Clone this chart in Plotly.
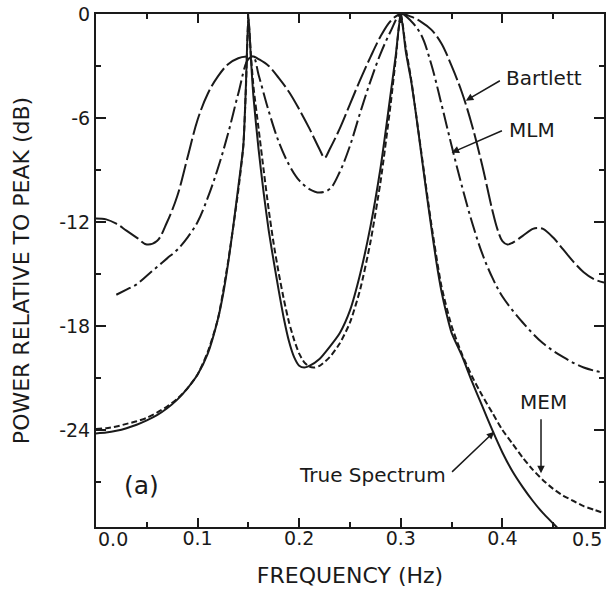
import plotly.graph_objects as go

# ---- data ----
true_x = [0.0, 0.01, 0.02, 0.03, 0.04, 0.05, 0.06, 0.07, 0.08, 0.09, 0.10, 0.11, 0.12, 0.125, 0.13, 0.135, 0.14, 0.145, 0.1475, 0.15,
          0.1525, 0.155, 0.16, 0.165, 0.17, 0.175, 0.18, 0.185, 0.19, 0.195, 0.20, 0.205, 0.21, 0.22, 0.23, 0.24,
          0.25, 0.26, 0.27, 0.28, 0.285, 0.29, 0.295, 0.30, 0.305, 0.31, 0.315, 0.32, 0.325, 0.33, 0.335, 0.34, 0.345,
          0.35, 0.36, 0.37, 0.38, 0.39, 0.40, 0.41, 0.42, 0.43, 0.44, 0.45, 0.46]
true_y = [-24.2, -24.15, -24.05, -23.9, -23.7, -23.45, -23.15, -22.75, -22.25, -21.6, -20.8, -19.6, -17.6, -16.2, -14.4, -12.3, -10.0, -7.6, -4.2, 0.0,
          -2.6, -4.8, -7.8, -10.3, -12.5, -14.3, -16.0, -17.6, -18.9, -19.8, -20.3, -20.4, -20.3, -19.9, -19.2, -18.4,
          -17.1, -15.0, -12.3, -8.9, -6.8, -4.6, -2.4, 0.0, -2.2, -3.8, -5.8, -8.0, -10.2, -12.3, -14.3, -16.0, -17.3,
          -18.4, -19.7, -21.2, -22.6, -24.0, -25.3, -26.4, -27.3, -28.1, -28.8, -29.4, -30.0]

mem_x = [0.0, 0.01, 0.02, 0.03, 0.04, 0.05, 0.06, 0.07, 0.08, 0.09, 0.10, 0.11, 0.12, 0.13, 0.14, 0.145, 0.1475, 0.15,
         0.1525, 0.155, 0.16, 0.165, 0.17, 0.175, 0.18, 0.185, 0.19, 0.195, 0.20, 0.205, 0.21, 0.215, 0.22, 0.23, 0.24,
         0.25, 0.26, 0.27, 0.28, 0.29, 0.295, 0.30, 0.305, 0.31, 0.32, 0.33, 0.34, 0.35, 0.36, 0.37, 0.38, 0.39, 0.40,
         0.41, 0.42, 0.43, 0.44, 0.45, 0.46, 0.47, 0.48, 0.49, 0.50]
mem_y = [-23.95, -23.9, -23.8, -23.65, -23.5, -23.3, -23.0, -22.65, -22.2, -21.6, -20.8, -19.5, -17.6, -14.3, -10.2, -7.6, -4.4, -0.3,
         -2.4, -4.2, -6.6, -9.0, -11.3, -13.3, -15.0, -16.5, -17.8, -18.8, -19.6, -20.1, -20.35, -20.4, -20.3, -19.8, -19.0,
         -17.8, -15.9, -13.2, -9.7, -5.2, -2.6, 0.0, -2.0, -3.7, -7.9, -12.1, -15.7, -18.0, -19.6, -20.9, -22.0, -23.0, -24.0,
         -24.8, -25.6, -26.3, -26.9, -27.4, -27.8, -28.1, -28.4, -28.6, -28.8]

mlm_x = [0.02, 0.03, 0.04, 0.05, 0.06, 0.07, 0.08, 0.09, 0.10, 0.11, 0.12, 0.13, 0.14, 0.15, 0.155,
         0.16, 0.17, 0.18, 0.19, 0.20, 0.21, 0.22, 0.23, 0.24, 0.25, 0.26, 0.27, 0.28, 0.29, 0.30,
         0.31, 0.32, 0.33, 0.34, 0.35, 0.36, 0.37, 0.38, 0.39, 0.40, 0.42, 0.44, 0.46, 0.48, 0.50]
mlm_y = [-16.2, -15.9, -15.6, -15.1, -14.6, -14.1, -13.6, -12.9, -12.0, -10.6, -8.9, -6.9, -4.6, -2.6, -2.5,
         -3.5, -5.6, -7.4, -8.7, -9.6, -10.1, -10.3, -10.1, -9.1, -7.6, -5.7, -3.9, -2.3, -1.0, 0.0,
         -0.4, -1.2, -2.9, -5.2, -7.6, -9.9, -12.0, -13.8, -15.2, -16.3, -17.8, -19.0, -19.8, -20.4, -20.7]

bart_x = [0.0, 0.01, 0.02, 0.03, 0.04, 0.05, 0.06, 0.07, 0.08, 0.09, 0.10, 0.11, 0.12, 0.13, 0.14, 0.15, 0.155,
          0.16, 0.17, 0.18, 0.19, 0.20, 0.21, 0.22, 0.225, 0.23, 0.24, 0.25, 0.26, 0.27, 0.28, 0.29, 0.30,
          0.31, 0.32, 0.33, 0.34, 0.35, 0.36, 0.37, 0.38, 0.39, 0.395, 0.40, 0.405, 0.41, 0.42, 0.43, 0.435,
          0.44, 0.45, 0.46, 0.47, 0.48, 0.49, 0.50]
bart_y = [-11.8, -11.85, -12.1, -12.5, -12.9, -13.3, -13.1, -12.0, -10.5, -8.3, -6.1, -4.6, -3.6, -2.9, -2.55, -2.45, -2.45,
          -2.6, -3.0, -3.7, -4.5, -5.5, -6.6, -7.8, -8.3, -7.8, -6.6, -5.2, -3.8, -2.5, -1.3, -0.4, 0.0,
          -0.15, -0.45, -0.9, -1.7, -3.0, -4.5, -6.4, -8.7, -11.3, -12.4, -13.1, -13.3, -13.2, -12.8, -12.4, -12.35,
          -12.4, -12.9, -13.6, -14.3, -14.9, -15.3, -15.5]

x_tick_vals = [0.0, 0.1, 0.2, 0.3, 0.4, 0.5]
x_tick_text = ["0.0", "0.1", "0.2", "0.3", "0.4", "0.5"]
y_tick_vals = [0, -6, -12, -18, -24]
y_tick_text = ["0", "-6", "-12", "-18", "-24"]

FONT = "DejaVu Sans"
INK = "#1a1a1a"
TICK_SIZE = 19

fig = go.Figure()
fig.add_trace(go.Scatter(x=bart_x, y=bart_y, mode="lines", name="Bartlett",
                         line=dict(color=INK, width=2, dash="22px,4px", shape="spline", smoothing=1)))
fig.add_trace(go.Scatter(x=mlm_x, y=mlm_y, mode="lines", name="MLM",
                         line=dict(color=INK, width=2, dash="16px,4px,3px,4px", shape="spline", smoothing=1)))
fig.add_trace(go.Scatter(x=mem_x, y=mem_y, mode="lines", name="MEM",
                         line=dict(color=INK, width=2, dash="6px,3px", shape="spline", smoothing=0.6)))
fig.add_trace(go.Scatter(x=true_x, y=true_y, mode="lines", name="True Spectrum",
                         line=dict(color=INK, width=2, shape="spline", smoothing=0.6)))

ann_font = dict(family=FONT, size=20, color=INK)
arrow = dict(axref="x", ayref="y", text="", showarrow=True,
             arrowhead=2, arrowsize=1, arrowwidth=1.5, arrowcolor=INK)
annotations = [
    dict(x=0.441, y=-3.7, text="Bartlett", showarrow=False, font=ann_font),
    dict(x=0.429, y=-6.7, text="MLM", showarrow=False, font=ann_font),
    dict(x=0.44, y=-22.4, text="MEM", showarrow=False, font=ann_font),
    dict(x=0.2725, y=-26.6, text="True Spectrum", showarrow=False, font=ann_font),
    dict(x=0.045, y=-27.2, text="(a)", showarrow=False, font=dict(family=FONT, size=25, color=INK)),
    dict(x=0.364, y=-5.0, ax=0.399, ay=-3.8, **arrow),
    dict(x=0.350, y=-8.0, ax=0.401, ay=-6.7, **arrow),
    dict(x=0.438, y=-26.5, ax=0.438, ay=-23.3, **arrow),
    dict(x=0.392, y=-24.1, ax=0.349, ay=-26.5, **arrow),
    # end tick labels of the x axis, kept inside the page like in the original
    dict(x=0.0, y=0, xref="paper", yref="paper", xanchor="left", yanchor="top", yshift=1,
         text=x_tick_text[0], showarrow=False, font=dict(family=FONT, size=TICK_SIZE, color=INK)),
    dict(x=1.0, y=0, xref="paper", yref="paper", xanchor="right", yanchor="top", yshift=1,
         text=x_tick_text[-1], showarrow=False, font=dict(family=FONT, size=TICK_SIZE, color=INK)),
]
shown_x_text = [""] + x_tick_text[1:-1] + [""]

fig.update_layout(
    width=609, height=589,
    margin=dict(l=96, r=3, t=14, b=62),
    plot_bgcolor="white", paper_bgcolor="white",
    showlegend=False,
    font=dict(family=FONT, color=INK),
    annotations=annotations,
)
fig.update_xaxes(
    range=[0, 0.5], tickvals=x_tick_vals, ticktext=shown_x_text,
    ticks="inside", ticklen=9, tickwidth=2, tickcolor=INK,
    minor=dict(ticks="inside", dtick=0.05, ticklen=5, tickwidth=2, tickcolor=INK),
    showline=True, linewidth=2, linecolor=INK, mirror="ticks",
    showgrid=False, zeroline=False,
    ticklabelstandoff=-7,
    tickfont=dict(family=FONT, size=TICK_SIZE, color=INK),
    title=dict(text="FREQUENCY (Hz)", font=dict(family=FONT, size=22, color=INK), standoff=20),
)
fig.update_yaxes(
    range=[-29.6, 0], tickvals=y_tick_vals, ticktext=y_tick_text,
    ticks="inside", ticklen=10, tickwidth=2, tickcolor=INK,
    minor=dict(ticks="inside", tickvals=[-3, -9, -15, -21, -27], ticklen=5, tickwidth=2, tickcolor=INK),
    showline=True, linewidth=2, linecolor=INK, mirror="ticks",
    showgrid=False, zeroline=False,
    tickfont=dict(family=FONT, size=TICK_SIZE, color=INK),
    title=dict(text="POWER RELATIVE TO PEAK (dB)", font=dict(family=FONT, size=22, color=INK), standoff=23),
)

fig.write_html("out.html")
